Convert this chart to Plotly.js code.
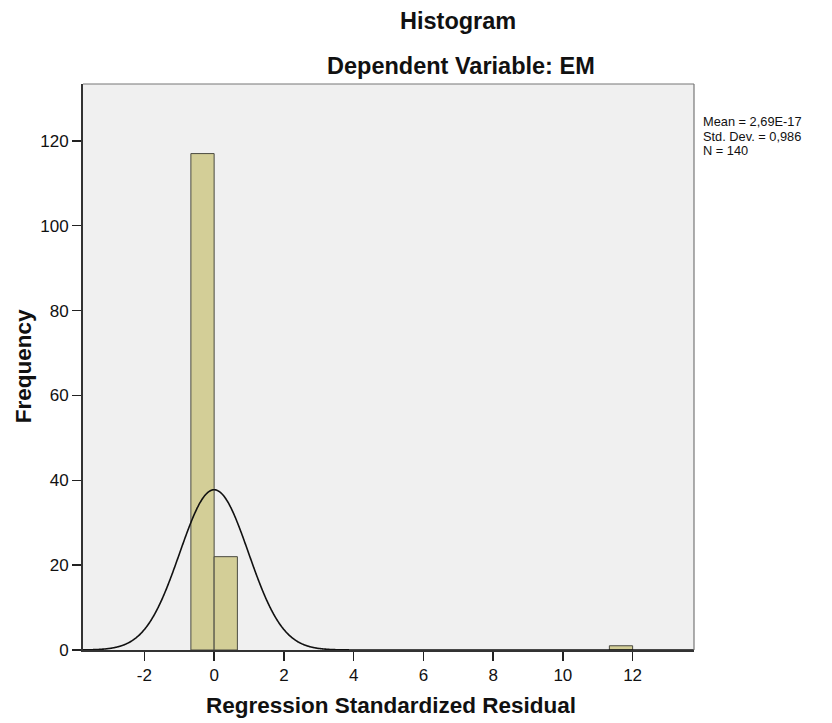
<!DOCTYPE html>
<html>
<head>
<meta charset="utf-8">
<script src="https://cdn.plot.ly/plotly-3.0.1.min.js"></script>
<style>html,body{margin:0;padding:0;background:#fff;}#chart{width:832px;height:723px;}</style>
</head>
<body>
<div id="chart"></div>
<script>
// Histogram bins (centres of 2/3-wide bins) and frequencies
const binCenters = [-1/3, 1/3, 35/3];
const binWidth = 2/3;
const frequencies = [117, 22, 1];
// Reported statistics of the residuals (used for the fitted normal curve)
const statMean = 2.69e-17;
const statSD = 0.986;
const statN = 140;
const statLabels = ["Mean = 2,69E-17", "Std. Dev. = 0,986", "N = 140"];
const xTicks = [-2, 0, 2, 4, 6, 8, 10, 12];
const yTicks = [0, 20, 40, 60, 80, 100, 120];

// Plot area in pixels (for placing text)
const L = 83, R = 694, T = 83.5, B = 650;
const px = v => (v - L) / (R - L);
const py = v => (B - v) / (B - T);

// Normal curve scaled to the histogram (N * bin width * density)
const curveX = [], curveY = [];
for (let x = -3.76; x <= 13.76; x += 0.02) {
  curveX.push(x);
  const z = (x - statMean) / statSD;
  curveY.push(statN * binWidth * Math.exp(-0.5 * z * z) / (statSD * Math.sqrt(2 * Math.PI)));
}

const font = "Liberation Sans, Arial, sans-serif";
const traces = [
  {type: 'bar', x: binCenters, y: frequencies, width: binWidth,
   marker: {color: '#d3ce97', line: {color: '#4a4a40', width: 1}},
   hoverinfo: 'x+y'},
  {type: 'scatter', mode: 'lines', x: curveX, y: curveY,
   line: {color: '#111', width: 1.6, shape: 'spline'}, hoverinfo: 'skip'}
];

const annotations = [
  {text: '<b>Histogram</b>', x: px(458), y: py(20), size: 23.5},
  {text: '<b>Dependent Variable: EM</b>', x: px(461), y: py(65), size: 23.5},
  {text: '<b>Regression Standardized Residual</b>', x: px(391), y: py(706), size: 22.5},
  {text: '<b>Frequency</b>', x: px(23), y: py(366), size: 22.5, textangle: -90}
].map(a => ({text: a.text, xref: 'paper', yref: 'paper', x: a.x, y: a.y, showarrow: false,
  xanchor: 'center', yanchor: 'middle', textangle: a.textangle || 0,
  font: {family: font, size: a.size, color: '#111'}}));

const statY = [120.8, 135.6, 150.4];
statLabels.forEach((t, i) => annotations.push({
  text: t, xref: 'paper', yref: 'paper', x: px(702), y: py(statY[i]), showarrow: false,
  xanchor: 'left', yanchor: 'middle', align: 'left', borderpad: 0,
  font: {family: font, size: 12.8, color: '#111'}}));

const layout = {
  width: 832, height: 723,
  margin: {l: L, r: 832 - R, t: T, b: 723 - B},
  paper_bgcolor: '#ffffff', plot_bgcolor: '#f0f0f0',
  showlegend: false, bargap: 0,
  font: {family: font, size: 17, color: '#111'},
  xaxis: {range: [-3.76, 13.76], tickvals: xTicks, ticktext: xTicks.map(String),
    ticks: 'outside', ticklen: 9, tickwidth: 1.5, tickcolor: '#222',
    showgrid: false, zeroline: false, showline: true, linecolor: '#333', linewidth: 2,
    tickfont: {family: font, size: 17, color: '#111'}},
  yaxis: {range: [0, 133.4], tickvals: yTicks, ticktext: yTicks.map(String),
    ticks: 'outside', ticklen: 9, tickwidth: 1.5, tickcolor: '#222',
    showgrid: false, zeroline: false, showline: true, linecolor: '#333', linewidth: 2,
    tickfont: {family: font, size: 17, color: '#111'}},
  shapes: [
    {type: 'line', xref: 'paper', yref: 'paper', x0: 0, x1: 1, y0: 1, y1: 1, line: {color: '#777', width: 1.2}},
    {type: 'line', xref: 'paper', yref: 'paper', x0: 1, x1: 1, y0: 0, y1: 1, line: {color: '#777', width: 1.2}}
  ],
  annotations: annotations
};

Plotly.newPlot('chart', traces, layout, {displayModeBar: false, staticPlot: true});
</script>
</body>
</html>
